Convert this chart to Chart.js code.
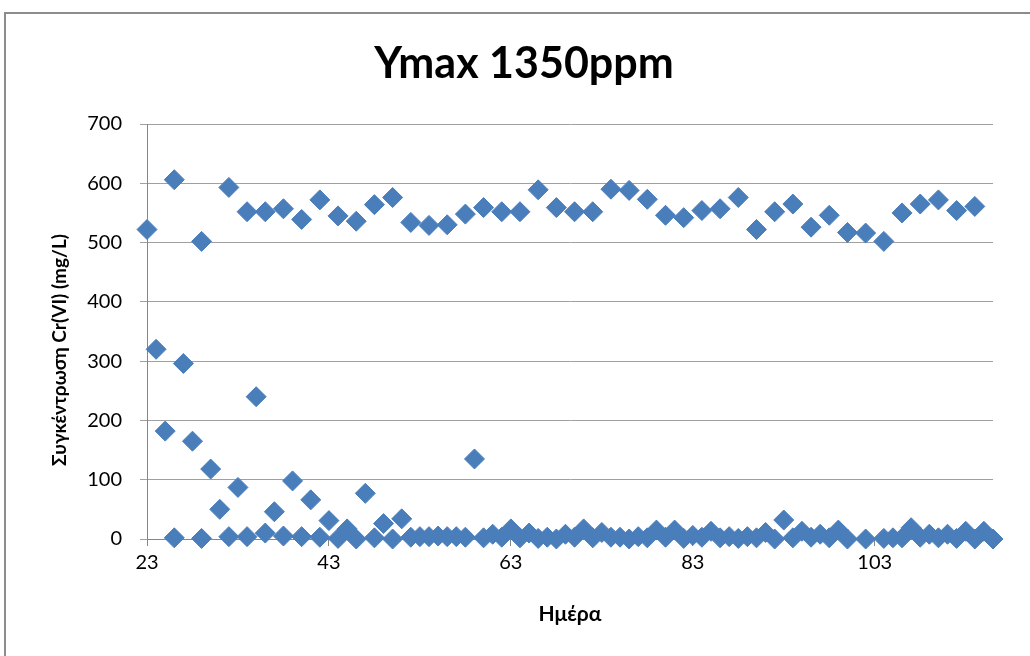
<!DOCTYPE html>
<html>
<head>
<meta charset="utf-8">
<title>Ymax 1350ppm</title>
<script src="https://cdn.jsdelivr.net/npm/chart.js@4.4.0/dist/chart.umd.min.js"></script>
<style>
  html, body { margin: 0; padding: 0; background: #fff; overflow: hidden; }
  #frame { position: absolute; left: 4px; top: 12px; width: 1100px; height: 700px; border: 2px solid #8c8c8c; }
  #myChart { position: absolute; left: 0; top: 0; }
</style>
</head>
<body>
<div id="frame"></div>
<canvas id="myChart" width="1030" height="656"></canvas>
<script>
// Cr(VI) concentration per day (mg/L)
const upperDays = [23, 26, 29, 32, 34, 36, 38, 40, 42, 44, 46, 48, 50,
    52, 54, 56, 58, 60, 62, 64, 66, 68, 70, 72, 74, 76, 78, 80, 82, 84,
    86, 88, 90, 92, 94, 96, 98, 100, 102, 104, 106, 108, 110, 112, 114];
const upperVals = [522, 606, 502, 593, 552, 552, 557, 539, 572, 545, 536, 564, 576,
    534, 529, 530, 548, 559, 552, 552, 589, 559, 552, 552, 590, 588, 573, 546, 542, 554,
    557, 576, 522, 552, 565, 526, 546, 517, 516, 502, 550, 565, 572, 554, 561];

const midDays = [24, 25, 27, 28, 30, 31, 33, 35, 37, 39, 41, 43, 45, 47, 49, 51,
    53, 55, 57, 59, 61, 63, 65, 67, 69, 71, 73, 75, 77, 79, 81, 83, 85, 87, 89,
    91, 93, 95, 97, 99, 105, 107, 109, 111, 113, 115];
const midVals = [320, 182, 296, 165, 118, 50, 87, 240, 46, 98, 66, 31, 17, 77, 26, 34,
    4, 5, 4, 135, 8, 17, 10, 3, 8, 17, 11, 3, 4, 15, 15, 6, 13, 4, 4,
    11, 32, 13, 8, 15, 2, 19, 8, 8, 13, 13];

const lowDays = [26, 29, 32, 34, 36, 38, 40, 42, 44, 46, 48, 50,
    52, 54, 56, 58, 60, 62, 64, 66, 68, 70, 72, 74, 76, 78, 80, 82, 84,
    86, 88, 90, 92, 94, 96, 98, 100, 102, 104, 106, 108, 110, 112, 114, 116];
const lowVals = [2, 1, 4, 4, 10, 5, 4, 3, 1, 0, 2, 0,
    3, 4, 4, 3, 2, 3, 2, 1, 0, 3, 2, 3, 0, 2, 3, 1, 3,
    2, 1, 2, 0, 2, 3, 2, 0, 0, 1, 2, 3, 2, 1, 0, 0];

const xTicks = [23, 43, 63, 83, 103];
const yTicks = [0, 100, 200, 300, 400, 500, 600, 700];

const chartTitle = 'Ymax 1350ppm';
const yTitle = 'Συγκέντρωση Cr(VI) (mg/L)';

const FONT = 'Lato, "Noto Sans", sans-serif';
const BLUE = '#4a7ebb';

function toPoints(days, vals) {
    return days.map((d, i) => ({ x: d, y: vals[i] }));
}

function seriesStyle(days, vals) {
    return {
        data: toPoints(days, vals),
        pointStyle: 'rectRot',
        pointRadius: 10,
        pointHoverRadius: 10,
        backgroundColor: BLUE,
        borderColor: BLUE,
        borderWidth: 1,
        clip: false,
    };
}

// main title and the vertical axis title are placed by hand,
// centred on the frame and slightly below the plot middle
const titlesPlugin = {
    id: 'titles',
    afterDraw(chart) {
        const ctx = chart.ctx;
        ctx.save();
        ctx.fillStyle = '#000';
        ctx.textAlign = 'center';
        ctx.textBaseline = 'middle';
        ctx.font = 'bold 43px ' + FONT;
        ctx.fillText(chartTitle, 524, 64);
        ctx.translate(60, 350);
        ctx.rotate(-Math.PI / 2);
        ctx.font = 'bold 19px ' + FONT;
        ctx.fillText(yTitle, 0, 0);
        ctx.restore();
    }
};

const myCanvas = document.getElementById('myChart').getContext('2d');

const myChart = new Chart(myCanvas, {
    type: 'scatter',
    data: {
        datasets: [
            seriesStyle(lowDays, lowVals),
            seriesStyle(midDays, midVals),
            seriesStyle(upperDays, upperVals),
        ],
    },
    plugins: [titlesPlugin],
    options: {
        responsive: false,
        animation: false,
        layout: {
            padding: { left: 0, right: 37, top: 124, bottom: 0 }
        },
        scales: {
            x: {
                type: 'linear',
                min: 23,
                max: 116,
                afterBuildTicks: (scale) => {
                    scale.ticks = xTicks.map(v => ({ value: v }));
                },
                afterFit: (scale) => { scale.height = 117; },
                grid: {
                    drawOnChartArea: false,
                    color: '#868686',
                    tickLength: 7,
                },
                border: { color: '#868686', width: 1 },
                ticks: {
                    color: '#000',
                    padding: 5,
                    maxRotation: 0,
                    font: { size: 20, family: FONT },
                },
                title: {
                    display: true,
                    text: 'Ημέρα',
                    color: '#000',
                    padding: { top: 4, bottom: 29 },
                    font: { size: 21, weight: 'bold', family: FONT },
                },
            },
            y: {
                min: 0,
                max: 700,
                afterBuildTicks: (scale) => {
                    scale.ticks = yTicks.map(v => ({ value: v }));
                },
                afterFit: (scale) => { scale.width = 147; },
                grid: {
                    color: '#a0a0a0',
                    tickLength: 7,
                },
                border: { color: '#868686', width: 1 },
                ticks: {
                    color: '#000',
                    padding: 18,
                    font: { size: 20, family: FONT },
                },
            },
        },
        plugins: {
            legend: { display: false },
            tooltip: { enabled: false },
            title: { display: false },
        },
    },
});
</script>
</body>
</html>
